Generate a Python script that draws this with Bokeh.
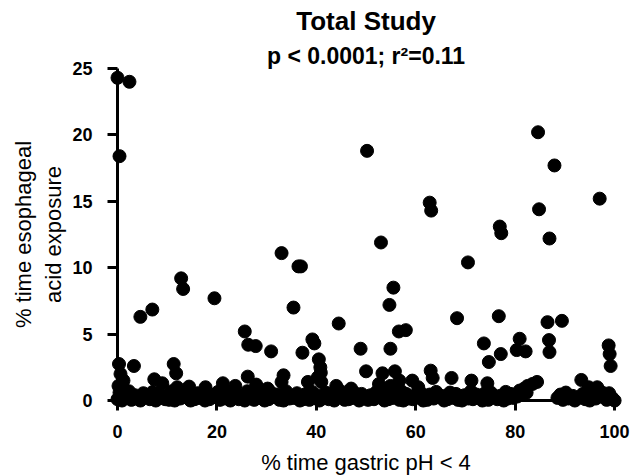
from bokeh.plotting import figure
from bokeh.models import Range1d, FixedTicker, Label
from bokeh.embed import file_html
from bokeh.resources import INLINE

FONT = "Liberation Sans"

title_text = "Total Study"
subtitle_text = "p < 0.0001; r\u00b2=0.11"
x_label = "% time gastric pH < 4"
y_label = "% time esophageal\nacid exposure"
x_ticks = [0, 20, 40, 60, 80, 100]
y_ticks = [0, 5, 10, 15, 20, 25]

# scattered upper points
up_x = [0.0, 2.4, 0.4, 4.6, 7.0, 12.8, 13.2, 19.5, 25.6, 26.3, 27.8, 30.9, 33.0, 36.4, 36.9,
        35.4, 37.2, 39.2, 39.6, 40.5, 40.8, 44.5, 50.2, 53.0, 55.5, 54.7, 56.6, 58.0, 48.9,
        54.9, 62.8, 63.1, 68.3, 70.5, 76.9, 77.2, 76.7, 84.6, 87.9, 84.8, 86.9, 97.0, 86.5,
        89.4, 73.7, 74.7, 77.1, 80.9, 80.3, 82.1, 86.8, 86.9, 98.8, 99.0, 99.2]
up_y = [24.3, 24.0, 18.4, 6.3, 6.85, 9.2, 8.4, 7.7, 5.2, 4.2, 4.1, 3.7, 11.1, 10.1, 10.1,
        7.0, 3.6, 4.6, 4.3, 3.1, 2.5, 5.8, 18.8, 11.9, 8.5, 7.2, 5.2, 5.3, 3.9,
        3.9, 14.9, 14.3, 6.2, 10.4, 13.1, 12.6, 6.35, 20.2, 17.7, 14.4, 12.2, 15.2, 5.9,
        6.0, 4.3, 2.9, 3.5, 4.65, 3.8, 3.7, 4.55, 3.65, 4.15, 3.5, 2.6]

# points between ~0.6 and 3
mid_x = [0.3, 3.3, 11.3, 11.8, 0.6, 1.2, 0.2, 7.4, 9.0, 12.0, 14.4, 17.7, 21.2, 23.7, 26.2,
         27.9, 33.4, 33.0, 38.3, 40.3, 40.9, 41.0, 44.0, 50.0, 53.3, 55.8, 52.6, 54.9, 56.7,
         59.3, 63.0, 63.4, 67.2, 71.2, 74.4, 83.5, 84.4, 82.5, 93.3, 94.8, 96.5, 97.5, 30.2,
         47.0, 60.5]
mid_y = [2.75, 2.6, 2.75, 2.05, 2.0, 1.5, 1.1, 1.6, 1.3, 1.0, 1.05, 1.0, 1.3, 1.1, 1.8,
         1.2, 1.9, 1.4, 1.4, 1.75, 2.1, 1.4, 1.1, 2.2, 2.05, 2.2, 1.25, 1.1, 1.5,
         1.5, 2.25, 1.7, 1.7, 1.5, 1.3, 1.25, 1.4, 1.1, 1.55, 1.0, 1.0, 0.6, 0.9,
         0.9, 1.0]

# dense band near zero (lower row)
low_x = [0.0, 0.9, 1.7, 2.8, 3.9, 4.6, 5.8, 6.5, 7.7, 8.5, 9.6, 10.4, 11.5, 12.6, 13.3, 14.7,
         15.5, 16.4, 17.6, 18.5, 19.3, 20.6, 21.4, 22.7, 23.5, 24.4, 25.6, 26.8, 27.5, 28.7,
         29.6, 30.4, 31.7, 32.6, 33.4, 34.6, 35.5, 36.7, 37.4, 38.6, 39.5, 40.6, 41.3, 42.5,
         43.6, 44.4, 45.7, 46.5, 47.3, 48.6, 49.5, 50.4, 51.6, 52.5, 53.7, 54.5, 55.4, 56.7,
         57.5, 58.6, 59.4, 60.7, 61.5, 62.3, 63.6, 64.5, 65.7, 66.4, 67.6, 68.5, 69.3, 70.6,
         71.5, 72.7, 73.4, 74.6, 75.5, 76.4, 77.7, 78.5, 79.6, 80.4, 81.5, 82.3, 88.5, 89.6,
         90.7, 92.0, 92.8, 94.1, 95.0, 96.2, 97.1, 98.4, 99.5, 100.0]
low_y = [0.1, 0.0, 0.2, 0.05, 0.15, 0.0, 0.25, 0.1, 0.0, 0.2, 0.1, 0.05, 0.0, 0.15, 0.25, 0.0,
         0.1, 0.2, 0.0, 0.1, 0.25, 0.05, 0.15, 0.0, 0.2, 0.1, 0.0, 0.15, 0.05, 0.2,
         0.0, 0.1, 0.25, 0.05, 0.0, 0.15, 0.2, 0.0, 0.1, 0.05, 0.2, 0.0, 0.15, 0.1,
         0.0, 0.25, 0.05, 0.1, 0.2, 0.0, 0.15, 0.05, 0.1, 0.25, 0.0, 0.1, 0.2, 0.05,
         0.0, 0.15, 0.1, 0.2, 0.0, 0.05, 0.15, 0.25, 0.0, 0.1, 0.2, 0.05, 0.0, 0.15,
         0.1, 0.2, 0.0, 0.05, 0.25, 0.1, 0.0, 0.15, 0.2, 0.3, 0.45, 0.6, 0.2, 0.05,
         0.15, 0.0, 0.2, 0.1, 0.0, 0.15, 0.3, 0.05, 0.2, 0.0]

# dense band near zero (upper row)
high_x = [0.4, 1.3, 2.3, 3.5, 5.2, 6.1, 7.1, 8.1, 9.9, 10.9, 12.2, 13.8, 15.0, 16.1, 17.1,
          18.9, 20.2, 21.8, 22.9, 24.9, 26.1, 27.1, 29.0, 30.9, 32.1, 33.9, 35.0, 36.1, 37.9,
          39.1, 40.1, 41.9, 43.1, 44.9, 46.0, 47.8, 49.1, 50.9, 52.1, 53.2, 54.1, 55.8, 57.1,
          58.1, 59.9, 61.1, 62.8, 64.1, 65.2, 66.9, 68.1, 69.8, 71.1, 72.2, 73.9, 75.1, 76.9,
          78.1, 79.1, 80.9, 81.8, 89.1, 90.2, 91.6, 93.6, 95.6, 96.8, 98.9]
high_y = [0.6, 0.45, 0.7, 0.4, 0.55, 0.35, 0.65, 0.5, 0.4, 0.7, 0.45, 0.6, 0.35, 0.55, 0.5,
          0.4, 0.65, 0.45, 0.6, 0.35, 0.7, 0.5, 0.4, 0.6, 0.45, 0.7, 0.35, 0.55, 0.5,
          0.65, 0.4, 0.6, 0.45, 0.7, 0.35, 0.55, 0.5, 0.4, 0.65, 0.45, 0.6, 0.35, 0.7,
          0.5, 0.4, 0.55, 0.45, 0.65, 0.35, 0.6, 0.5, 0.4, 0.7, 0.45, 0.55, 0.6, 0.35,
          0.65, 0.5, 0.75, 0.9, 0.45, 0.6, 0.35, 0.5, 0.4, 0.7, 0.55]

xs = up_x + mid_x + low_x + high_x
ys = up_y + mid_y + low_y + high_y

p = figure(width=633, height=476, output_backend="svg", toolbar_location=None,
           x_range=Range1d(-23.54, 103.8), y_range=Range1d(-5.72, 30.12),
           min_border_left=0, min_border_right=0, min_border_top=0, min_border_bottom=0,
           background_fill_color="white", border_fill_color="white")
p.outline_line_color = None
p.xgrid.visible = False
p.ygrid.visible = False

p.scatter(xs, ys, size=13, fill_color="black", line_color="black")

for ax, ticks, bounds in ((p.xaxis[0], x_ticks, (0, 100)), (p.yaxis[0], y_ticks, (0, 25))):
    ax.ticker = FixedTicker(ticks=ticks)
    ax.bounds = bounds
    ax.fixed_location = 0
    ax.axis_line_width = 3
    ax.axis_line_color = "black"
    ax.major_tick_line_width = 3
    ax.major_tick_line_color = "black"
    ax.major_tick_out = 10
    ax.major_tick_in = 0
    ax.minor_tick_line_color = None
    ax.major_label_text_font = FONT
    ax.major_label_text_font_style = "bold"
    ax.major_label_text_font_size = "18px"
    ax.major_label_text_color = "black"
    ax.axis_label_text_font = FONT
    ax.axis_label_text_font_style = "normal"
    ax.axis_label_text_font_size = "22px"
    ax.axis_label_text_color = "black"

p.xaxis[0].major_label_standoff = 14
p.yaxis[0].major_label_standoff = 15
p.xaxis[0].axis_label = x_label
p.xaxis[0].axis_label_standoff = 9
p.yaxis[0].axis_label = y_label
p.yaxis[0].axis_label_standoff = 3

p.add_layout(Label(x=50, y=28.6, text=title_text, text_align="center",
                   text_baseline="alphabetic", text_font=FONT, text_font_style="bold",
                   text_font_size="26px", text_color="black"))
p.add_layout(Label(x=50, y=25.95, text=subtitle_text, text_align="center",
                   text_baseline="alphabetic", text_font=FONT, text_font_style="bold",
                   text_font_size="23px", text_color="black"))

open("out.html", "w").write(file_html(p, INLINE))
